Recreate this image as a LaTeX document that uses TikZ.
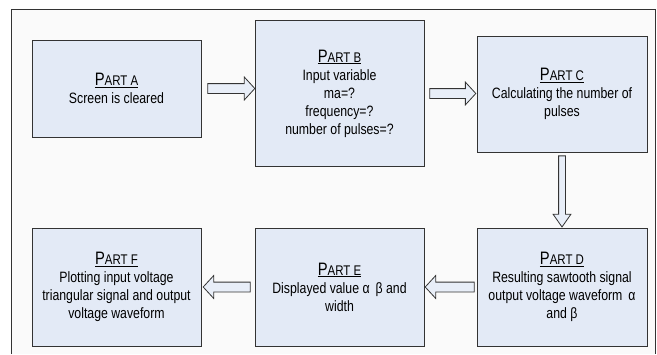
\documentclass[tikz,border=0pt]{standalone}
\usepackage{fontspec}
\setmainfont[FakeStretch=0.82]{Liberation Sans}
\usepackage{xcolor}
\usepackage{tikz}
\usetikzlibrary{calc,shapes.arrows}
\definecolor{boxfill}{HTML}{E3EAF6}
\definecolor{framebg}{HTML}{FAFAFA}
\definecolor{edge}{HTML}{333333}
\definecolor{arrowfill}{HTML}{E8EEF8}
\tikzset{
  partbox/.style={draw=edge, line width=0.9pt, fill=boxfill, align=center,
    inner sep=0pt, font=\fontsize{15}{18}\selectfont},
  harrow/.style={single arrow, draw=edge, line width=0.8pt, fill=arrowfill,
    inner xsep=0pt, inner ysep=4.5pt, minimum width=22pt,
    single arrow head extend=6.5pt, single arrow tip angle=95,
    single arrow head indent=0pt},
  varrow/.style={harrow, inner ysep=3pt, minimum width=17pt,
    single arrow head extend=5.5pt, single arrow tip angle=70}
}
\newcommand{\parthead}[1]{\underline{{\fontsize{18}{18}\selectfont P}{\fontsize{14}{18}\selectfont ART #1}}}
\newcommand{\blockarrow}[3][harrow]{%
  \path let \p1=($(#3)-(#2)$), \n1={veclen(\x1,\y1)}, \n2={atan2(\y1,\x1)} in
    node[#1, minimum height=\n1, rotate=\n2] at ($(#2)!0.5!(#3)$) {};}

\begin{document}
\begin{tikzpicture}[x=1pt, y=-1pt]
  \useasboundingbox (0,0) rectangle (657,354);
  \fill[white] (0,0) rectangle (657,354);
  \fill[framebg] (11,9) rectangle (655,354);
  \draw[edge, line width=0.9pt] (11,354) -- (11,9) -- (655,9) -- (655,354);

  % top row
  \node[partbox, minimum width=169pt, minimum height=97pt] (A) at (116.5,88.5)
    {\parthead{A}\\Screen is cleared};
  \node[partbox, minimum width=169pt, minimum height=146pt] (B) at (339.5,93.5)
    {\parthead{B}\\Input variable\\ma=?\\frequency=?\\number of pulses=?};
  \node[partbox, minimum width=170pt, minimum height=116pt] (C) at (562,94)
    {\parthead{C}\\Calculating the number of\\pulses};

  % bottom row
  \node[partbox, minimum width=170pt, minimum height=118pt] (D) at (562,287)
    {\parthead{D}\\Resulting sawtooth signal\\output voltage waveform \,α\\and β};
  \node[partbox, minimum width=169pt, minimum height=118pt] (E) at (339.5,287)
    {\parthead{E}\\Displayed value α \,β and\\width};
  \node[partbox, minimum width=169pt, minimum height=118pt] (F) at (116.5,287)
    {\parthead{F}\\Plotting input voltage\\triangular signal and output\\voltage waveform};

  % arrows
  \coordinate (ab1) at ($(A.east)+(4,0)$);
  \coordinate (ab2) at ($(B.west |- A.east)+(-2,0)$);
  \coordinate (bc1) at ($(B.east)+(3,0)$);
  \coordinate (bc2) at ($(C.west |- B.east)+(-3,0)$);
  \coordinate (cd1) at ($(C.south)+(0,1)$);
  \coordinate (cd2) at ($(D.north)+(0,-3)$);
  \coordinate (de2) at ($(E.east)+(3,0)$);
  \coordinate (ef1) at ($(E.west)+(-2,0)$);
  \coordinate (ef2) at ($(F.east)+(4,0)$);

  \blockarrow{ab1}{ab2}
  \blockarrow{bc1}{bc2}
  \blockarrow[varrow]{cd1}{cd2}
  \blockarrow{D.west}{de2}
  \blockarrow{ef1}{ef2}
\end{tikzpicture}
\end{document}
